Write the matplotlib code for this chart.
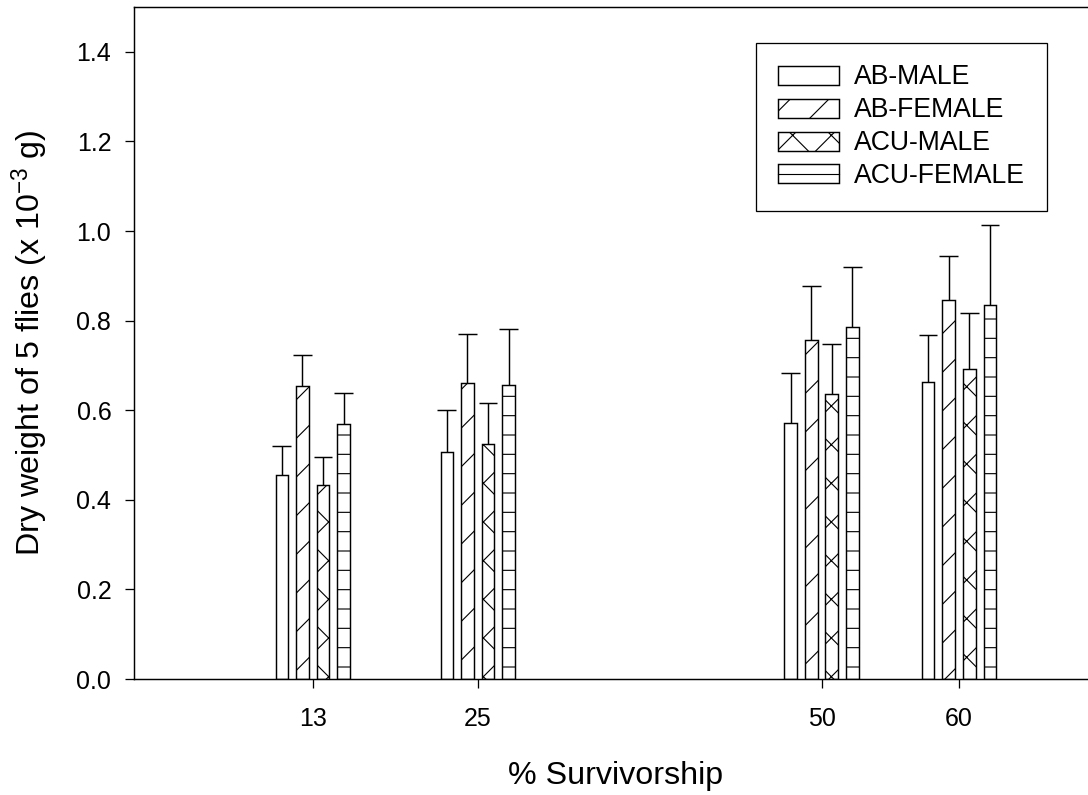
import numpy as np
import matplotlib
matplotlib.use('Agg')
import matplotlib.pyplot as plt
from matplotlib.lines import Line2D
from matplotlib.patches import Patch

plt.rcParams['font.family'] = ['Liberation Sans', 'DejaVu Sans']
plt.rcParams['mathtext.fontset'] = 'custom'
plt.rcParams['mathtext.rm'] = 'Liberation Sans'
plt.rcParams['mathtext.it'] = 'Liberation Sans:italic'
plt.rcParams['hatch.linewidth'] = 0.7

survivorship = [13, 25, 50, 60]
groups = ['AB-MALE', 'AB-FEMALE', 'ACU-MALE', 'ACU-FEMALE']
ab_male = [0.455, 0.507, 0.571, 0.664]
ab_male_err = [0.064, 0.093, 0.112, 0.104]
ab_female = [0.655, 0.661, 0.756, 0.845]
ab_female_err = [0.068, 0.109, 0.121, 0.099]
acu_male = [0.432, 0.525, 0.637, 0.692]
acu_male_err = [0.063, 0.091, 0.110, 0.126]
acu_female = [0.569, 0.656, 0.786, 0.835]
acu_female_err = [0.070, 0.125, 0.133, 0.179]

means = [ab_male, ab_female, acu_male, acu_female]
errs = [ab_male_err, ab_female_err, acu_male_err, acu_female_err]
hatches = ['', '/', 'x', '-']
offsets = [-2.25, -0.75, 0.75, 2.25]
width = 0.92
cap = 0.68

dpi = 116
fig = plt.figure(figsize=(1088 / dpi, 795 / dpi), dpi=dpi)
ax = fig.add_axes([0.1232, 0.1459, 0.8846, 0.8453])

x = np.array(survivorship, dtype=float)
handles = []
for name, m, e, h, off in zip(groups, means, errs, hatches, offsets):
    m = np.array(m)
    e = np.array(e)
    xc = x + off
    bars = ax.bar(xc, m, width, color='white', edgecolor='black', linewidth=0.9,
                  hatch=h, label=name, zorder=2)
    handles.append(bars)
    # upper error bars only
    ax.vlines(xc, m, m + e, color='black', linewidth=0.9, zorder=3)
    ax.hlines(m + e, xc - cap, xc + cap, color='black', linewidth=0.9, zorder=3)

# legend key for the horizontal hatch: box with one line through the middle
handles[3] = (Patch(facecolor='white', edgecolor='black', linewidth=0.9),
              Line2D([0], [0], color='black', linewidth=0.7))

ax.set_xlim(0, 70)
ax.set_ylim(0, 1.5)
ax.set_xticks(survivorship)
ax.set_yticks(np.arange(0, 1.41, 0.2))
ax.yaxis.set_major_formatter(matplotlib.ticker.FormatStrFormatter('%.1f'))
ax.tick_params(direction='out', length=5.6, width=0.8, labelsize=15.5)
ax.tick_params(axis='x', pad=11.5)
ax.tick_params(axis='y', pad=8.5)
for s in ax.spines.values():
    s.set_linewidth(0.9)
ax.spines['right'].set_visible(False)

ax.set_xlabel('% Survivorship', fontsize=20)
ax.set_ylabel(r'Dry weight of 5 flies (x 10$^{-3}$ g)', fontsize=20)
ax.xaxis.set_label_coords(0.5, -0.122)
ax.yaxis.set_label_coords(-0.086, 0.5)

leg = ax.legend(handles, groups, loc='upper right',
                bbox_to_anchor=(1046.7 / 1088, 1 - 42.7 / 795),
                bbox_transform=fig.transFigure, borderaxespad=0, fontsize=16.5,
                handlelength=2.3, handleheight=0.72, handletextpad=0.55,
                labelspacing=0.26, borderpad=0.82, fancybox=False,
                edgecolor='black', framealpha=1)
leg.get_frame().set_linewidth(0.8)

fig.savefig('out.png', dpi=dpi)
